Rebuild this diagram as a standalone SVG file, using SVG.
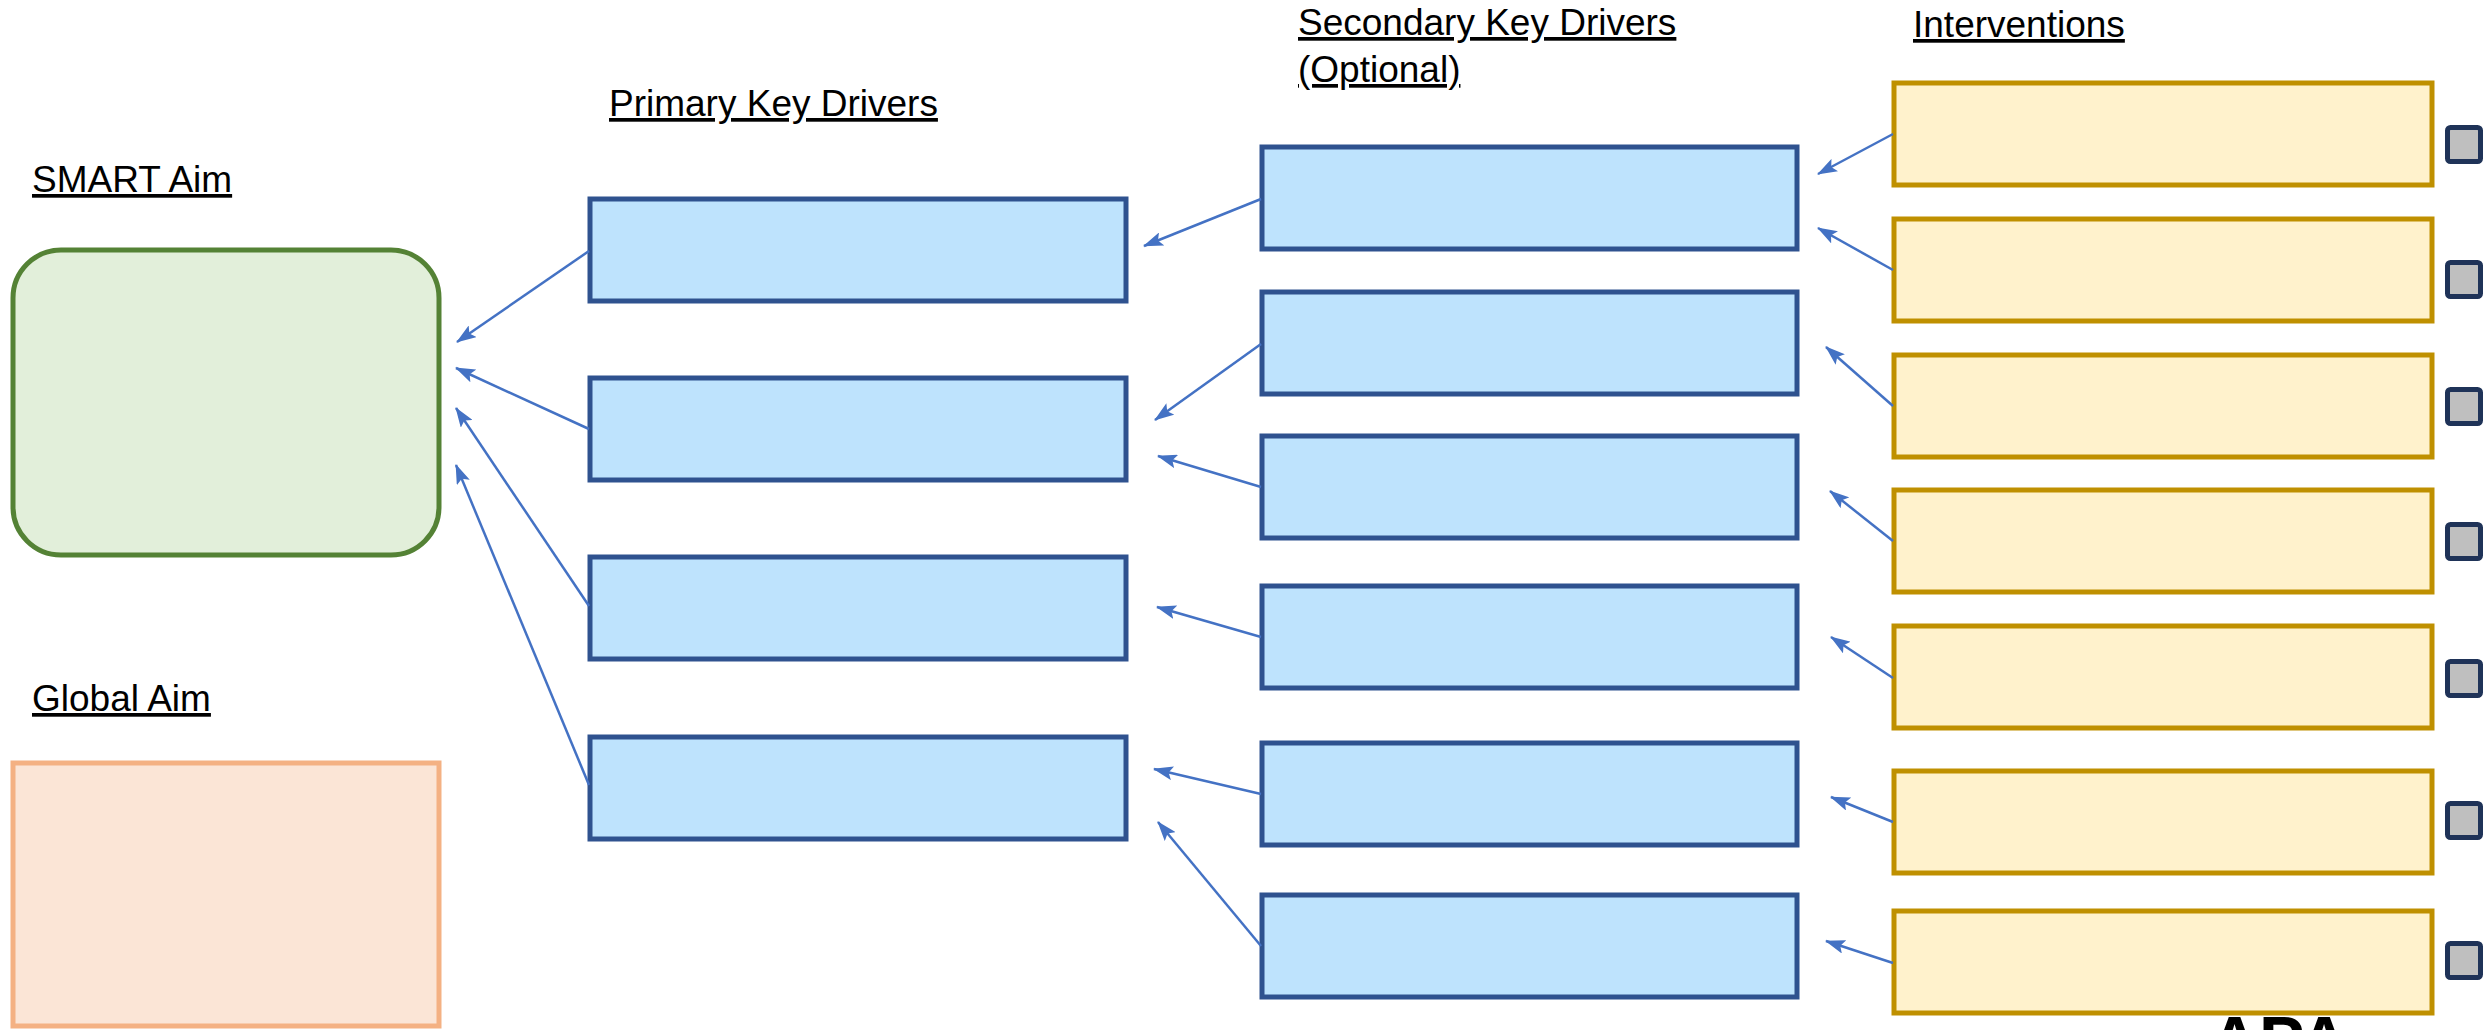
<svg xmlns="http://www.w3.org/2000/svg" width="2484" height="1030" viewBox="0 0 2484 1030">
  <style>
    .lbl { font-family: "Liberation Sans", Arial, sans-serif; font-size: 37px; fill: #000; text-decoration: underline; }
    .drv { fill: #BEE3FD; stroke: #2F528F; stroke-width: 5; }
    .int { fill: #FFF2CC; stroke: #BF9000; stroke-width: 5; }
    .sq { fill: #BFBFBF; stroke: #1F3358; stroke-width: 5; }
    .con { stroke: #4472C4; stroke-width: 2.5; fill: none; marker-end: url(#arr); }
  </style>
  <defs>
    <marker id="arr" viewBox="0 0 20 14" refX="19" refY="7" markerWidth="20" markerHeight="14" markerUnits="userSpaceOnUse" orient="auto">
      <path d="M0,0 L20,7 L0,14 L4,7 z" fill="#4472C4"/>
    </marker>
  </defs>
  <rect width="2484" height="1030" fill="#FFFFFF"/>

  <text x="2210" y="1064" font-family="Liberation Sans, Arial, sans-serif" font-size="68" font-weight="bold" fill="#000">APA</text>

  <g id="labels">
    <text class="lbl" x="32" y="192">SMART Aim</text>
    <text class="lbl" x="32" y="711">Global Aim</text>
    <text class="lbl" x="609" y="116">Primary Key Drivers</text>
    <text class="lbl" x="1298" y="35">Secondary Key Drivers</text>
    <text class="lbl" x="1298" y="82">(Optional)</text>
    <text class="lbl" x="1913" y="37">Interventions</text>
  </g>

  <g id="smart-aim"><rect x="13" y="250" width="426" height="305" rx="48" ry="48" fill="#E2EFDA" stroke="#548235" stroke-width="5"/></g>
  <g id="global-aim"><rect x="13" y="763" width="426" height="263" fill="#FBE5D6" stroke="#F4B183" stroke-width="5"/></g>

  <g id="primary-1"><rect class="drv" x="590" y="199" width="536" height="102"/></g>
  <g id="primary-2"><rect class="drv" x="590" y="378" width="536" height="102"/></g>
  <g id="primary-3"><rect class="drv" x="590" y="557" width="536" height="102"/></g>
  <g id="primary-4"><rect class="drv" x="590" y="737" width="536" height="102"/></g>

  <g id="secondary-1"><rect class="drv" x="1262" y="147" width="535" height="102"/></g>
  <g id="secondary-2"><rect class="drv" x="1262" y="292" width="535" height="102"/></g>
  <g id="secondary-3"><rect class="drv" x="1262" y="436" width="535" height="102"/></g>
  <g id="secondary-4"><rect class="drv" x="1262" y="586" width="535" height="102"/></g>
  <g id="secondary-5"><rect class="drv" x="1262" y="743" width="535" height="102"/></g>
  <g id="secondary-6"><rect class="drv" x="1262" y="895" width="535" height="102"/></g>

  <g id="intervention-1"><rect class="int" x="1894" y="83" width="538" height="102"/><rect class="sq" x="2447.5" y="127.5" width="33" height="34" rx="3"/></g>
  <g id="intervention-2"><rect class="int" x="1894" y="219" width="538" height="102"/><rect class="sq" x="2447.5" y="262.5" width="33" height="34" rx="3"/></g>
  <g id="intervention-3"><rect class="int" x="1894" y="355" width="538" height="102"/><rect class="sq" x="2447.5" y="389.5" width="33" height="34" rx="3"/></g>
  <g id="intervention-4"><rect class="int" x="1894" y="490" width="538" height="102"/><rect class="sq" x="2447.5" y="524.5" width="33" height="34" rx="3"/></g>
  <g id="intervention-5"><rect class="int" x="1894" y="626" width="538" height="102"/><rect class="sq" x="2447.5" y="661.5" width="33" height="34" rx="3"/></g>
  <g id="intervention-6"><rect class="int" x="1894" y="771" width="538" height="102"/><rect class="sq" x="2447.5" y="803.5" width="33" height="34" rx="3"/></g>
  <g id="intervention-7"><rect class="int" x="1894" y="911" width="538" height="102"/><rect class="sq" x="2447.5" y="943.5" width="33" height="34" rx="3"/></g>

  <g id="connectors">
    <line class="con" x1="589" y1="251" x2="457" y2="342"/>
    <line class="con" x1="589" y1="429" x2="456" y2="368"/>
    <line class="con" x1="589" y1="606" x2="456" y2="408"/>
    <line class="con" x1="589" y1="785" x2="456" y2="465"/>

    <line class="con" x1="1261" y1="199" x2="1144" y2="246"/>
    <line class="con" x1="1261" y1="344" x2="1155" y2="420"/>
    <line class="con" x1="1261" y1="487" x2="1158" y2="456"/>
    <line class="con" x1="1261" y1="637" x2="1157" y2="607"/>
    <line class="con" x1="1261" y1="794" x2="1154" y2="769"/>
    <line class="con" x1="1261" y1="946" x2="1158" y2="822"/>

    <line class="con" x1="1893" y1="134" x2="1818" y2="174"/>
    <line class="con" x1="1893" y1="270" x2="1818" y2="228"/>
    <line class="con" x1="1893" y1="406" x2="1826" y2="347"/>
    <line class="con" x1="1893" y1="541" x2="1830" y2="491"/>
    <line class="con" x1="1893" y1="678" x2="1831" y2="637"/>
    <line class="con" x1="1893" y1="822" x2="1831" y2="797"/>
    <line class="con" x1="1893" y1="963" x2="1826" y2="941"/>
  </g>
</svg>
